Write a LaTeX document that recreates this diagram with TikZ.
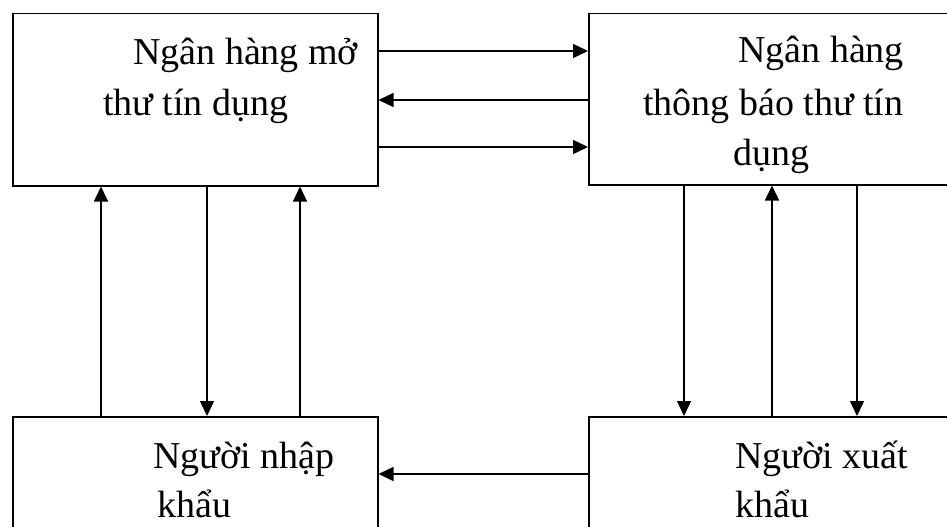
\documentclass[tikz,border=0pt]{standalone}
\usepackage{fontspec}
\setmainfont{Liberation Serif}
\usetikzlibrary{arrows.meta}
\begin{document}
\begin{tikzpicture}[x=1pt,y=-1pt,
  box/.style={draw,line width=1.5pt,rectangle,inner sep=0pt,anchor=north west},
  arr/.style={line width=1.4pt,-{Triangle[length=15pt,width=14pt]}},
  lbl/.style={anchor=base west,inner sep=0pt,font=\fontsize{38}{38}\selectfont}]
\clip (0,0) rectangle (947,527);
\node[box,minimum width=365pt,minimum height=172pt] (tl) at (12,13) {};
\node[box,minimum width=420pt,minimum height=171pt] (tr) at (588,13) {};
\node[box,minimum width=365pt,minimum height=150pt] (bl) at (12,416) {};
\node[box,minimum width=420pt,minimum height=150pt] (br) at (588,416) {};
% text
\node[lbl] (t1a) at (133,64) {Ngân hàng mở};
\node[lbl] (t1b) at (103,115) {thư tín dụng};
\node[lbl] (t2a) at (738,63) {Ngân hàng};
\node[lbl] (t2b) at (643,115) {thông báo thư tín};
\node[lbl] (t2c) at (733,165) {dụng};
\node[lbl] (t3a) at (153,468) {Người nhập};
\node[lbl] (t3b) at (157,517) {khẩu};
\node[lbl] (t4a) at (735,468) {Người xuất};
\node[lbl] (t4b) at (735,517) {khẩu};
% guide coordinates
\coordinate (h1) at (0,51);
\coordinate (h2) at (0,100);
\coordinate (h3) at (0,147);
\coordinate (h4) at (0,474);
\coordinate (v1) at (101,0);
\coordinate (v2) at (207,0);
\coordinate (v3) at (300,0);
\coordinate (v4) at (684,0);
\coordinate (v5) at (772,0);
\coordinate (v6) at (857,0);
% horizontal arrows
\draw[arr] (tl.east |- h1) -- (tr.west |- h1);
\draw[arr] (tr.west |- h2) -- (tl.east |- h2);
\draw[arr] (tl.east |- h3) -- (tr.west |- h3);
\draw[arr] (br.west |- h4) -- (bl.east |- h4);
% vertical arrows
\draw[arr] (bl.north -| v1) -- (tl.south -| v1);
\draw[arr] (tl.south -| v2) -- (bl.north -| v2);
\draw[arr] (bl.north -| v3) -- (tl.south -| v3);
\draw[arr] (tr.south -| v4) -- (br.north -| v4);
\draw[arr] (br.north -| v5) -- (tr.south -| v5);
\draw[arr] (tr.south -| v6) -- (br.north -| v6);
\end{tikzpicture}
\end{document}
